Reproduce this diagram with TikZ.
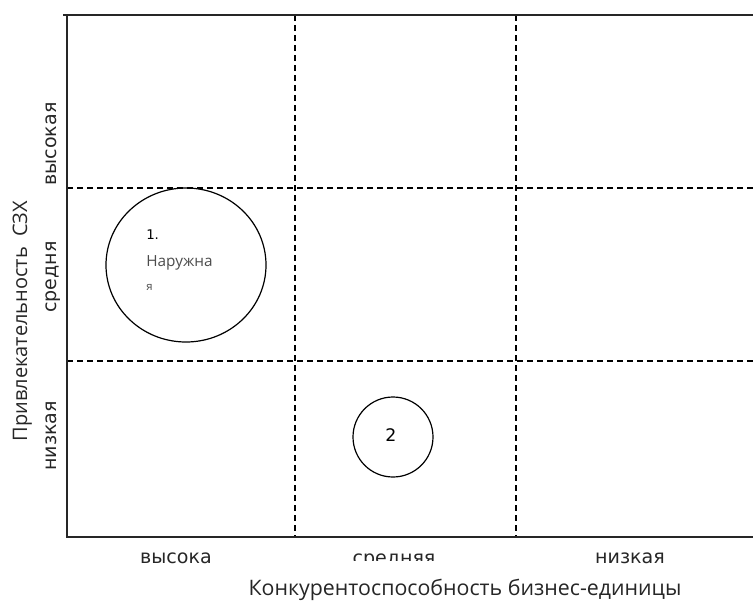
\documentclass[tikz,border=0pt]{standalone}
\usepackage{fontspec}
\usetikzlibrary{shapes.geometric}
\setmainfont{DejaVu Sans}
\newfontfamily\titlefont{Open Sans}
\begin{document}
\begin{tikzpicture}[x=0.75pt,y=-0.75pt,
  axis/.style={line width=1.1pt, draw=black!85},
  grid/.style={line width=0.8pt, dash pattern=on 4.5pt off 3pt},
  bubble/.style={draw, line width=0.9pt, inner sep=0pt},
  lab/.style={inner sep=0pt, anchor=base, font=\fontsize{14.3}{16}\selectfont, text=black!85},
  title/.style={inner sep=0pt, anchor=base, font=\titlefont\fontsize{16}{18}\selectfont, text=black!85}]
\useasboundingbox (0,0) rectangle (753,600);
% grid lines
\coordinate (v1t) at (295,15); \coordinate (v1b) at (295,537);
\coordinate (v2t) at (516,15); \coordinate (v2b) at (516,537);
\coordinate (h1l) at (67,188); \coordinate (h1r) at (753,188);
\coordinate (h2l) at (67,361); \coordinate (h2r) at (753,361);
\draw[grid] (v1t) -- (v1b);
\draw[grid] (v2t) -- (v2b);
\draw[grid] (h1l) -- (h1r);
\draw[grid] (h2l) -- (h2r);
% axes
\coordinate (tl) at (63,15); \coordinate (tr) at (753,15);
\coordinate (ot) at (67,15); \coordinate (o) at (67,537); \coordinate (br) at (753,537);
\draw[axis] (tl) -- (tr);
\draw[axis] (ot) -- (o) -- (br);
% bubbles
\node[bubble, ellipse, minimum width=160*0.75pt, minimum height=154*0.75pt] (b1) at (186,265) {};
\node[bubble, circle, minimum size=80*0.75pt] (b2) at (393,437) {};
\node[inner sep=0pt, anchor=base, font=\fontsize{13}{15}\selectfont] (n2) at (391,441) {2};
\node[anchor=base west, inner sep=0pt, font=\fontsize{10}{12}\selectfont] (t1) at (146,239) {1.};
\node[anchor=base west, inner sep=0pt, font=\titlefont\fontsize{11.5}{13}\selectfont, text=black!70] (t2) at (146,266) {Наружна};
\node[anchor=base west, inner sep=0pt, font=\titlefont\fontsize{8.5}{10}\selectfont, text=black!70] (t3) at (146,290) {я};
% bottom labels
\node[lab] (xh) at (176,563) {высока};
\begin{scope}
\clip (330,545) rectangle (490,560);
\node[lab] (xm) at (394,564) {средняя};
\end{scope}
\node[lab] (xl) at (630,563) {низкая};
\node[title] (xt) at (465,595) {Конкурентоспособность бизнес-единицы};
% left labels
\node[lab, rotate=90] (yh) at (56,144) {высокая};
\node[lab, rotate=90] (ym) at (56,277) {средня};
\node[lab, rotate=90] (yl) at (56,436) {низкая};
\node[title, rotate=90, font=\titlefont\fontsize{15}{17}\selectfont] (yt) at (27,321) {Привлекательность\ \ СЗХ};
\end{tikzpicture}
\end{document}
